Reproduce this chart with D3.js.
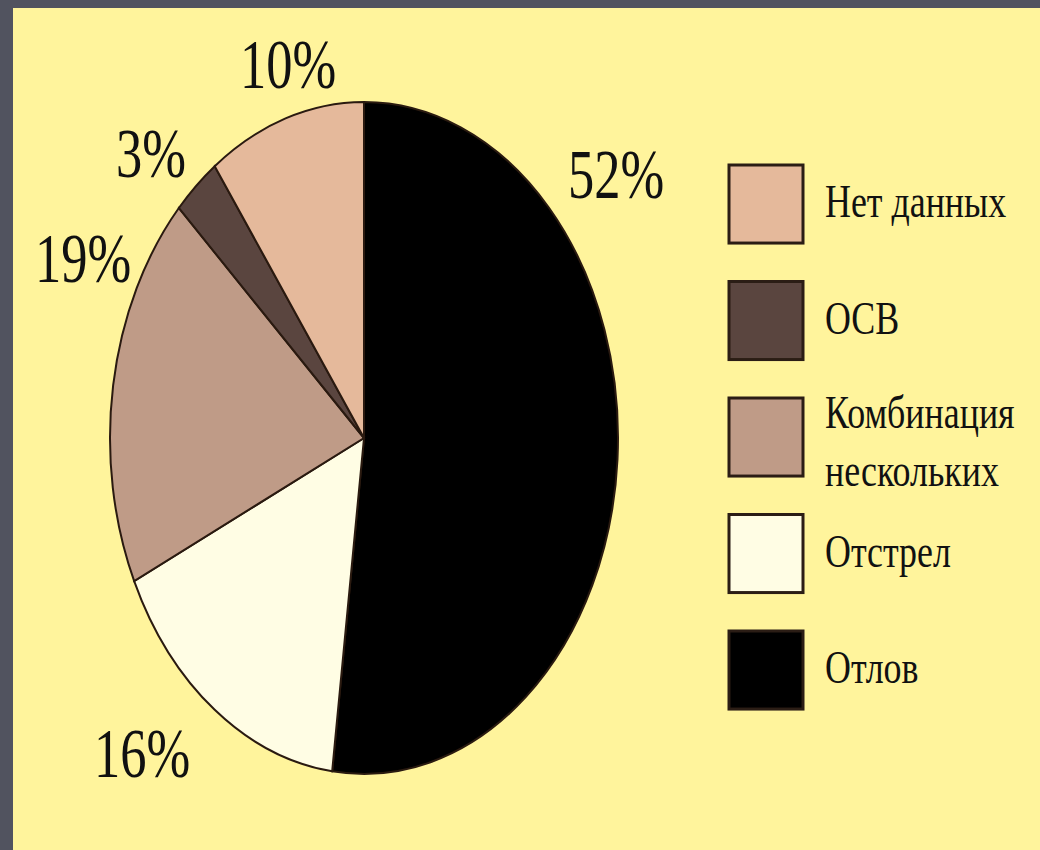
<!DOCTYPE html>
<html>
<head>
<meta charset="utf-8">
<script src="https://cdn.jsdelivr.net/npm/d3@7"></script>
<style>
  body { margin: 0; background: #51535f; }
  svg { display: block; }
  .pct { font-size: 70px; fill: #111; }
  .leg { font-size: 46px; fill: #111; }
</style>
</head>
<body>
<svg id="chart"></svg>
<script>
const width = 1040;
const height = 850;

// data
const categories = ["Отлов", "Отстрел", "Комбинация нескольких", "ОСВ", "Нет данных"];
const values = [52, 16, 19, 3, 10];
const colors = ["#000000", "#fffde4", "#bf9b87", "#5a453f", "#e5b99b"];
const legendOrder = ["Нет данных", "ОСВ", "Комбинация нескольких", "Отстрел", "Отлов"];
const legendLines = [["Нет данных"], ["ОСВ"], ["Комбинация", "нескольких"], ["Отстрел"], ["Отлов"]];

// hand placed label spots (center x, baseline y), as in the original slide
const labelSpots = {
  "Отлов": [616, 198],
  "Отстрел": [142, 777],
  "Комбинация нескольких": [83, 282],
  "ОСВ": [151, 177],
  "Нет данных": [288, 88]
};

// pick a serif font that is really installed (falls back to the default)
function pickFont(list) {
  const ctx = document.createElement("canvas").getContext("2d");
  const probe = "mmmWWwiilНетданных1%";
  for (const f of list) {
    for (const base of ["monospace", "sans-serif"]) {
      ctx.font = "40px " + base;
      const w0 = ctx.measureText(probe).width;
      ctx.font = "40px '" + f + "', " + base;
      if (Math.abs(ctx.measureText(probe).width - w0) > 0.5) return "'" + f + "', serif";
    }
  }
  return "serif";
}
const serifFont = pickFont(["Liberation Serif", "DejaVu Serif", "Noto Serif", "Times New Roman", "Tinos"]);

const svg = d3.select("svg#chart")
  .attr("width", width)
  .attr("height", height);

// yellow panel
svg.append("rect")
  .attr("x", 13)
  .attr("y", 8)
  .attr("width", width - 13)
  .attr("height", height - 8)
  .attr("fill", "#fff49c");

const data = categories.map((c, i) => ({name: c, value: values[i], color: colors[i]}));

// pie is drawn as a circle then stretched vertically like the slide
const cx = 364, cy = 438;
const rx = 254, ry = 336;

const pie = d3.pie().sort(null).value(d => d.value);
const arc = d3.arc().innerRadius(0).outerRadius(rx);

const pieG = svg.append("g")
  .attr("transform", "translate(" + cx + "," + cy + ") scale(1," + (ry / rx) + ")");

pieG.selectAll("path")
  .data(pie(data))
  .enter()
  .append("path")
  .attr("d", arc)
  .attr("fill", d => d.data.color)
  .attr("stroke", "#2a1a10")
  .attr("stroke-width", 2)
  .attr("vector-effect", "non-scaling-stroke");

// percentage labels (text is horizontally squeezed in the original)
const sx = 0.75;
svg.append("g").selectAll("text")
  .data(data)
  .enter()
  .append("text")
  .attr("class", "pct")
  .style("font-family", serifFont)
  .attr("text-anchor", "middle")
  .attr("transform", d => "translate(" + labelSpots[d.name][0] + "," + labelSpots[d.name][1] + ") scale(" + sx + ",1)")
  .text(d => d.value + "%");

// legend
const step = 116.5;
const legendY = d3.scaleBand()
  .domain(legendOrder)
  .range([165, 165 + step * (5 - 0.33)])
  .paddingInner(0.33)
  .paddingOuter(0);

const colorOf = d3.scaleOrdinal().domain(categories).range(colors);

const legend = svg.append("g").attr("id", "legend");

legend.selectAll("rect")
  .data(legendOrder)
  .enter()
  .append("rect")
  .attr("x", 729)
  .attr("y", d => legendY(d))
  .attr("width", 74)
  .attr("height", legendY.bandwidth())
  .attr("fill", d => colorOf(d))
  .attr("stroke", "#2b1d15")
  .attr("stroke-width", 3);

const legText = legend.selectAll("text")
  .data(legendOrder)
  .enter()
  .append("text")
  .attr("class", "leg")
  .style("font-family", serifFont)
  .attr("transform", d => "translate(825," + (legendY(d) + 52) + ") scale(0.78,1)");

legText.each(function(d, i) {
  const lines = legendLines[i];
  const t = d3.select(this);
  if (lines.length > 1) {
    t.append("tspan").attr("x", 0).attr("y", -22).text(lines[0]);
    t.append("tspan").attr("x", 0).attr("y", 36).text(lines[1]);
  } else {
    t.append("tspan").attr("x", 0).attr("y", 0).text(lines[0]);
  }
});
</script>
</body>
</html>
